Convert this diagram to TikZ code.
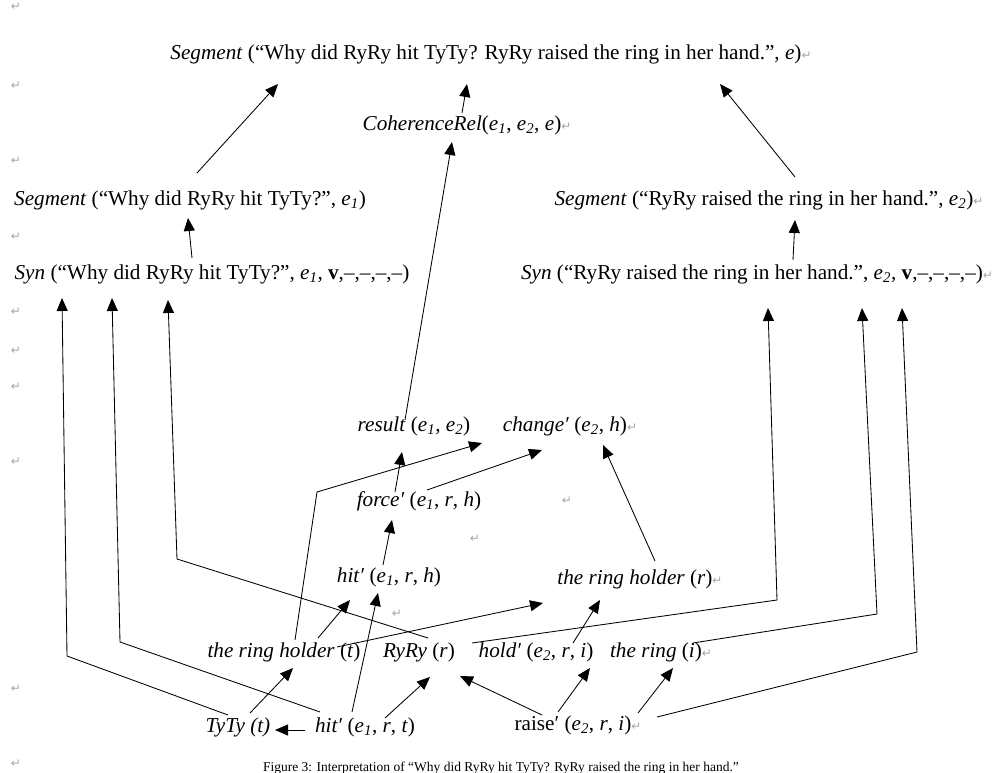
\documentclass[tikz,border=0pt]{standalone}
\usepackage{fontspec}
\setmainfont{Liberation Serif}
\newfontfamily\symfont{DejaVu Sans}
\usetikzlibrary{arrows.meta}
\newcommand\parmk{{\symfont\color{black!35}\fontsize{12}{12}\selectfont ↵}}
\newcommand\sbi[1]{\textsubscript{\textit{#1}}}
\begin{document}
\begin{tikzpicture}[x=1pt,y=-1pt,
  every node/.style={inner sep=0pt,text height=0.72em,text depth=0.24em},
  txt/.style={font=\fontsize{21.2}{25}\selectfont},
  pm/.style={font=\fontsize{12}{12}\selectfont},
  conn/.style={-{Triangle[length=13pt,width=11pt]},line width=0.85pt,black},
  wire/.style={line width=0.85pt,black}]
\useasboundingbox (0,0) rectangle (1006,773);
% nodes
\node[txt] (top) at (491,57) {\textit{Segment} (“Why did RyRy hit TyTy? RyRy raised the ring in her hand.”, \textit{e})\parmk};
\node[txt] (coh) at (467,128) {\textit{CoherenceRel}(\textit{e}\sbi{1}, \textit{e}\sbi{2}, \textit{e})\parmk};
\node[txt] (seg1) at (190,203) {\textit{Segment} (“Why did RyRy hit TyTy?”, \textit{e}\sbi{1})};
\node[txt] (seg2) at (769,203) {\textit{Segment} (“RyRy raised the ring in her hand.”, \textit{e}\sbi{2})\parmk};
\node[txt] (syn1) at (212,277) {\textit{Syn} (“Why did RyRy hit TyTy?”, \textit{e}\sbi{1}\textit{,} \textbf{v},–,–,–,–)};
\node[txt] (syn2) at (757,277) {\textit{Syn} (“RyRy raised the ring in her hand.”, \textit{e}\sbi{2}\textit{,} \textbf{v},–,–,–,–)\parmk};
\node[txt] (result) at (414,429) {\textit{result} (\textit{e}\sbi{1}, \textit{e}\sbi{2})};
\node[txt] (change) at (570,429) {\textit{change′} (\textit{e}\sbi{2}, \textit{h})\parmk};
\node[txt] (force) at (419,504) {\textit{force′} (\textit{e}\sbi{1}, \textit{r}, \textit{h})};
\node[txt] (hitrh) at (389,580) {\textit{hit′} (\textit{e}\sbi{1}, \textit{r}, \textit{h})};
\node[txt] (holderr) at (640,582) {\textit{the ring holder} (\textit{r})\parmk};
\node[txt] (holdert) at (284,655) {\textit{the ring holder} (\textit{t})};
\node[txt] (ryry) at (419,655) {\textit{RyRy} (\textit{r})};
\node[txt] (hold) at (536,655) {\textit{hold′} (\textit{e}\sbi{2}, \textit{r}, \textit{i})};
\node[txt] (ring) at (661,655) {\textit{the ring} (\textit{i})\parmk};
\node[txt] (tyty) at (238,730) {\textit{TyTy (t)}};
\node[txt] (hitrt) at (365,730) {\textit{hit′} (\textit{e}\sbi{1}, \textit{r}, \textit{t})};
\node[txt] (raise) at (578,728) {raise′ (\textit{e}\sbi{2}, \textit{r}, \textit{i})\parmk};
% caption (cut by the page edge)
\node[font=\fontsize{13.5}{16}\selectfont,anchor=base] (cap) at (501,771) {Figure 3: Interpretation of “Why did RyRy hit TyTy? RyRy raised the ring in her hand.”};
% paragraph marks
\foreach \yy [count=\i] in {8,87,162,238,313,352,388,463,690,765}
  \node[pm] (pl\i) at (16,\yy) {\parmk};
\node[pm] (pa) at (567,502) {\parmk};
\node[pm] (pb) at (475,540) {\parmk};
\node[pm] (pc) at (397,615) {\parmk};
% bend points
\coordinate (b7) at (67,656);
\coordinate (b8) at (120,642);
\coordinate (b9) at (177,559);
\coordinate (b10) at (777,600);
\coordinate (b11) at (877,614);
\coordinate (b12) at (917,652);
\coordinate (b22) at (317,492);
% connectors
\draw[conn] ([shift={(7,-30)}]seg1.center) -- ([shift={(-213,27)}]top.center);
\draw[conn] ([shift={(-5,-15)}]coh.center) -- ([shift={(-24,27)}]top.center);
\draw[conn] ([shift={(26,-26)}]seg2.center) -- ([shift={(229,27)}]top.center);
\draw[conn] ([shift={(-20,-19)}]syn1.center) -- ([shift={(-2,15)}]seg1.center);
\draw[conn] ([shift={(36,-17)}]syn2.center) -- ([shift={(26,17)}]seg2.center);
\draw[conn] ([shift={(-9,-9)}]result.center) -- ([shift={(-15,14)}]coh.center);
\draw[conn] ([shift={(-10,-15)}]tyty.center) -- (b7) -- ([shift={(-150,21)}]syn1.center);
\draw[conn] ([shift={(-45,-18)}]hitrt.center) -- (b8) -- ([shift={(-100,21)}]syn1.center);
\draw[conn] ([shift={(9,-17)}]ryry.center) -- (b9) -- ([shift={(-44,23)}]syn1.center);
\draw[conn] ([shift={(53,-12)}]ryry.center) -- (b10) -- ([shift={(11,31)}]syn2.center);
\draw[conn] ([shift={(32,-12)}]ring.center) -- (b11) -- ([shift={(105,31)}]syn2.center);
\draw[conn] ([shift={(79,-11)}]raise.center) -- (b12) -- ([shift={(145,31)}]syn2.center);
\draw[conn] ([shift={(12,-17)}]tyty.center) -- ([shift={(9,13)}]holdert.center);
\draw[conn] ([shift={(-60,0)}]hitrt.center) -- ([shift={(37,0)}]tyty.center);
\draw[conn] ([shift={(-13,-18)}]hitrt.center) -- ([shift={(-11,13)}]hitrh.center);
\draw[conn] ([shift={(20,-12)}]hitrt.center) -- ([shift={(11,22)}]ryry.center);
\draw[conn] ([shift={(-36,-13)}]raise.center) -- ([shift={(41,21)}]ryry.center);
\draw[conn] ([shift={(-20,-16)}]raise.center) -- ([shift={(54,13)}]hold.center);
\draw[conn] ([shift={(60,-15)}]raise.center) -- ([shift={(12,13)}]ring.center);
\draw[conn] ([shift={(34,-17)}]holdert.center) -- ([shift={(-39,20)}]hitrh.center);
\draw[conn] ([shift={(53,-8)}]holdert.center) -- ([shift={(-97,21)}]holderr.center);
\draw[conn] ([shift={(11,-15)}]holdert.center) -- (b22) -- ([shift={(-88,14)}]change.center);
\draw[conn] ([shift={(37,-12)}]hold.center) -- ([shift={(-40,18)}]holderr.center);
\draw[conn] ([shift={(-6,-15)}]hitrh.center) -- ([shift={(-27,16)}]force.center);
\draw[conn] ([shift={(-24,-12)}]force.center) -- ([shift={(-12,23)}]result.center);
\draw[conn] ([shift={(8,-14)}]force.center) -- ([shift={(-28,21)}]change.center);
\draw[conn] ([shift={(15,-21)}]holderr.center) -- ([shift={(33,16)}]change.center);
\end{tikzpicture}
\end{document}
